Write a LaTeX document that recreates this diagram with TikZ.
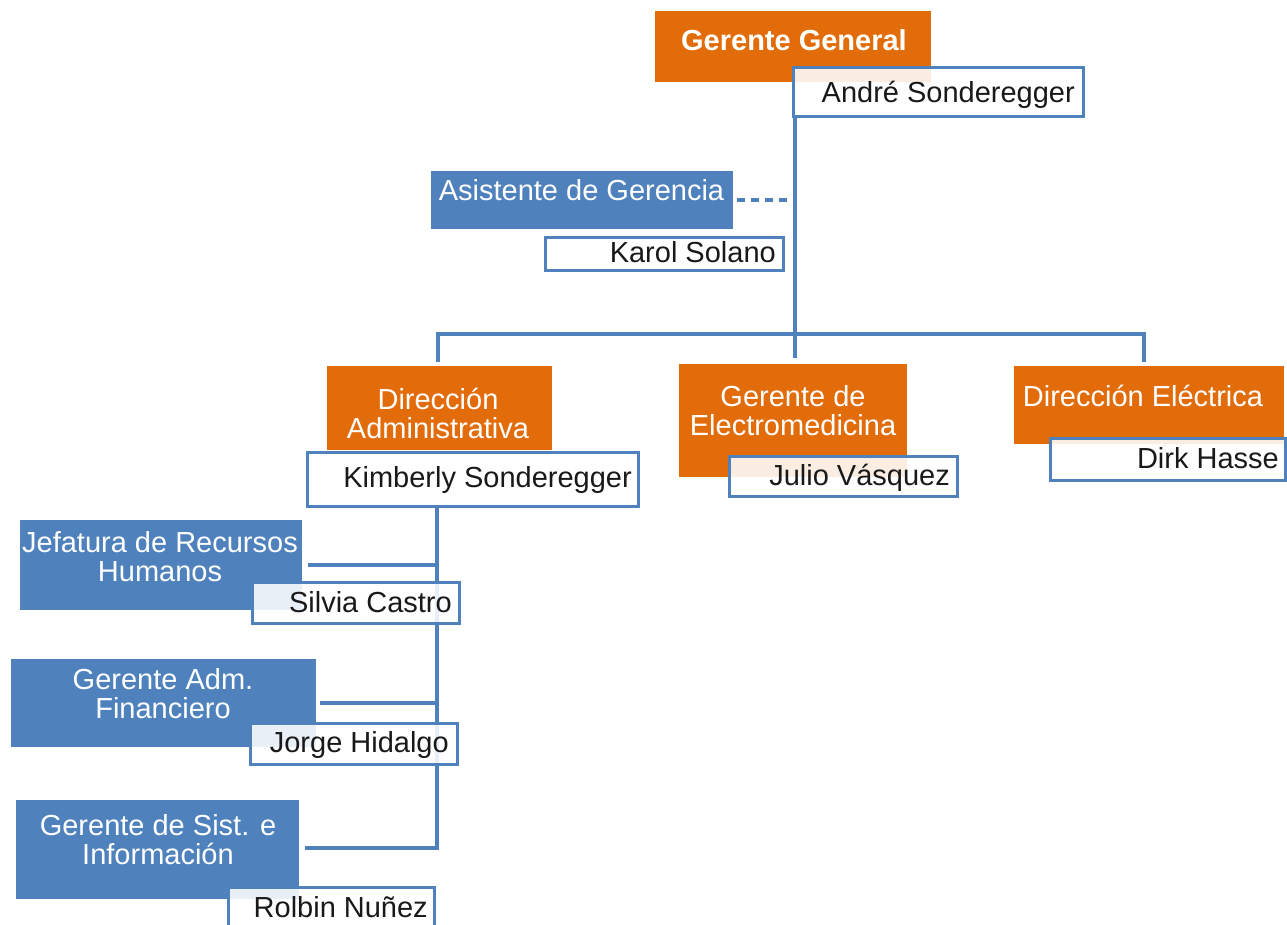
\documentclass[tikz,border=0pt]{standalone}
\usepackage{fontspec}
\setmainfont{Liberation Sans}
\definecolor{org}{HTML}{E36C0A}
\definecolor{blu}{HTML}{4F81BD}
\begin{document}
\begin{tikzpicture}[x=1pt,y=-1pt,
 box/.style={rectangle, inner sep=0pt, anchor=north west},
 obox/.style={box, fill=org},
 bbox/.style={box, fill=blu},
 nbox/.style={box, draw=blu, line width=3pt, fill=white, fill opacity=0.88},
 ttl/.style={text=white, font=\fontsize{29}{29}\selectfont, align=center, inner sep=0pt},
 nm/.style={text=black!90, font=\fontsize{29}{29}\selectfont, inner sep=0pt, text height=21pt, text depth=0pt, anchor=east},
 conn/.style={draw=blu, line width=3.5pt}]
\useasboundingbox (0,0) rectangle (1287,924);
\fill[white] (0,0) rectangle (1287,924);
% title boxes
\node[obox, minimum width=276pt, minimum height=71pt] (gg) at (655,11) {};
\node[bbox, minimum width=302pt, minimum height=58pt] (asis) at (431,171) {};
\node[obox, minimum width=225pt, minimum height=84pt] (diradm) at (327,366) {};
\node[obox, minimum width=228pt, minimum height=113pt] (gelec) at (679,364) {};
\node[obox, minimum width=270pt, minimum height=78pt] (direl) at (1014,366) {};
\node[bbox, minimum width=282pt, minimum height=90pt] (jef) at (20,520) {};
\node[bbox, minimum width=305pt, minimum height=88pt] (gadm) at (11,659) {};
\node[bbox, minimum width=283pt, minimum height=99pt] (sist) at (16,800) {};
% connectors
\coordinate (trunk) at (795,0);
\coordinate (busL) at (438,334);
\coordinate (busR) at (1144,334);
\coordinate (spine) at (437,848);
\node[nbox, minimum width=290pt, minimum height=49pt] (andre) at (792,66) {};
\draw[conn, shorten >=6pt] (andre.south -| trunk) -- (gelec.north -| trunk);
\draw[conn, shorten <=4pt, shorten >=4pt] (diradm.north -| busL) -- (busL) -- (busR) -- (direl.north -| busR);
\draw[conn, dash pattern=on 8pt off 6pt] ([xshift=4pt]asis.east) -- (asis.east -| trunk);
\node[nbox, minimum width=331pt, minimum height=54pt] (kim) at (306,451) {};
\draw[conn] (kim.south -| spine) -- (spine) -- ([xshift=6pt]sist.east |- spine);
\draw[conn] ([xshift=6pt]jef.east) -- (jef.east -| spine);
\draw[conn] ([xshift=4pt]gadm.east) -- (gadm.east -| spine);
% name boxes
\node[nbox, minimum width=238pt, minimum height=33pt] (karol) at (544,236) {};
\node[nbox, minimum width=228pt, minimum height=40pt] (julio) at (728,455) {};
\node[nbox, minimum width=235pt, minimum height=42pt] (dirk) at (1049,437) {};
\node[nbox, minimum width=207pt, minimum height=41pt] (silvia) at (251,581) {};
\node[nbox, minimum width=207pt, minimum height=41pt] (jorge) at (249,722) {};
\node[nbox, minimum width=206pt, minimum height=50pt] (rolbin) at (227,886) {};
% texts
\node[ttl] (ggT) at (794,40) {\bfseries Gerente General};
\node[nm] (andreT) at (1075,91.5) {André Sonderegger};
\node[ttl] (asisT) at (581.5,190) {Asistente de Gerencia};
\node[nm] (karolT) at (776,252) {Karol Solano};
\node[ttl] (diradmT) at (438,413) {Dirección\\Administrativa};
\node[nm] (kimT) at (632,477) {Kimberly Sonderegger};
\node[ttl] (gelecT) at (793,411) {Gerente de\\Electromedicina};
\node[nm] (julioT) at (950,475) {Julio Vásquez};
\node[ttl] (direlT) at (1143,396) {Dirección Eléctrica};
\node[nm] (dirkT) at (1279,458) {Dirk Hasse};
\node[ttl] (jefT) at (160,557) {Jefatura de Recursos\\Humanos};
\node[nm] (silviaT) at (452,602) {Silvia Castro};
\node[ttl] (gadmT) at (163,694) {Gerente Adm.\\Financiero};
\node[nm] (jorgeT) at (449,742) {Jorge Hidalgo};
\node[ttl] (sistT) at (158,840) {Gerente de Sist. e\\Información};
\node[nm] (rolbinT) at (428,907) {Rolbin Nuñez};
\end{tikzpicture}
\end{document}
